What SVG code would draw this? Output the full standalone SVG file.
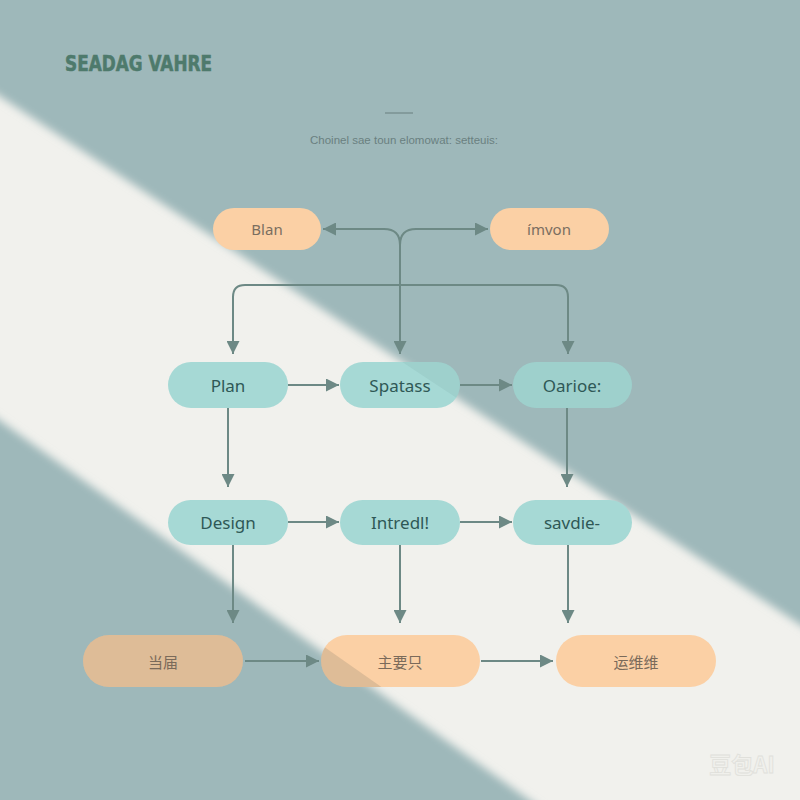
<svg xmlns="http://www.w3.org/2000/svg" width="800" height="800" viewBox="0 0 800 800">
<defs>
<style>
.lbl{font-family:"Noto Sans","DejaVu Sans",sans-serif;text-anchor:middle;dominant-baseline:central}
.t{fill:#a6d9d5}
.o{fill:#fbd0a5}
.tt{fill:#2f5856;font-size:17px}
.ot{fill:#7a6e60;font-size:15px}
.cjk{font-family:"Noto Sans CJK SC",sans-serif;fill:#7a6a5a;font-size:15px;text-anchor:middle;dominant-baseline:central}
.c{fill:none;stroke:#6d8985;stroke-width:2}
</style>
<filter id="soft" x="-10%" y="-10%" width="120%" height="120%"><feGaussianBlur stdDeviation="4"/></filter>
<marker id="ah" viewBox="0 0 10 10" refX="10" refY="5" markerWidth="13" markerHeight="13" markerUnits="userSpaceOnUse" orient="auto-start-reverse">
<path d="M0,0 L10,5 L0,10 z" fill="#6d8985"/>
</marker>
<clipPath id="topShade"><polygon points="-20,-20 820,-20 820,638 -20,83"/></clipPath>
<clipPath id="botShade"><polygon points="-20,406 557,810 -20,810"/></clipPath>
</defs>
<rect width="800" height="800" fill="#f1f1ed"/>
<g filter="url(#soft)">
<polygon points="-40,-40 840,-40 840,651 -40,70" fill="#9eb8ba"/>
<polygon points="-40,392 571,830 -40,830" fill="#9eb8ba"/>
</g>
<text x="65" y="71" font-family="DejaVu Sans,sans-serif" font-weight="bold" font-size="21" fill="#4e7a6c" stroke="#4e7a6c" stroke-width="0.6" textLength="147" lengthAdjust="spacingAndGlyphs">SEADAG VAHRE</text>
<line x1="385" y1="113" x2="413" y2="113" stroke="#7a9292" stroke-width="1.5"/>
<text x="404" y="140" font-family="Liberation Sans,Arial,sans-serif" font-size="11.5" fill="#6a8080" text-anchor="middle" dominant-baseline="central">Choinel sae toun elomowat: setteuis:</text>
<g id="connectors">
<path class="c" d="M400,245 Q400,229 384,229 H323" marker-end="url(#ah)"/>
<path class="c" d="M400,245 Q400,229 416,229 H488" marker-end="url(#ah)"/>
<path class="c" d="M400,240 V354" marker-end="url(#ah)"/>
<path class="c" d="M233,354 V297 Q233,285 245,285 H556 Q568,285 568,297 V354" marker-start="url(#ah)" marker-end="url(#ah)"/>
<path class="c" d="M288,385 H339" marker-end="url(#ah)"/>
<path class="c" d="M460,385 H512" marker-end="url(#ah)"/>
<path class="c" d="M288,522 H339" marker-end="url(#ah)"/>
<path class="c" d="M460,522 H512" marker-end="url(#ah)"/>
<path class="c" d="M228,408 V487" marker-end="url(#ah)"/>
<path class="c" d="M567,408 V487" marker-end="url(#ah)"/>
<path class="c" d="M233,545 V623" marker-end="url(#ah)"/>
<path class="c" d="M400,545 V623" marker-end="url(#ah)"/>
<path class="c" d="M568,545 V623" marker-end="url(#ah)"/>
<path class="c" d="M245,661 H319" marker-end="url(#ah)"/>
<path class="c" d="M481,661 H553" marker-end="url(#ah)"/>
</g>
<g id="n-blan"><rect class="o" x="213" y="208" width="108" height="42" rx="21"/><text class="lbl ot" x="267" y="229">Blan</text></g>
<g id="n-imvon"><rect class="o" x="490" y="208" width="119" height="42" rx="21"/><text class="lbl ot" x="549" y="229">ímvon</text></g>
<g id="n-plan"><rect class="t" x="168" y="362" width="120" height="46" rx="23"/><text class="lbl tt" x="228" y="385">Plan</text></g>
<g id="n-spatass"><rect class="t" x="340" y="362" width="120" height="46" rx="23"/><rect x="340" y="362" width="120" height="46" rx="23" fill="#1d4a4a" opacity="0.06" clip-path="url(#topShade)"/><text class="lbl tt" x="400" y="385">Spatass</text></g>
<g id="n-oarioe"><rect class="t" x="513" y="362" width="119" height="46" rx="23"/><rect x="513" y="362" width="119" height="46" rx="23" fill="#1d4a4a" opacity="0.06" clip-path="url(#topShade)"/><text class="lbl tt" x="572" y="385">Oarioe:</text></g>
<g id="n-design"><rect class="t" x="168" y="500" width="120" height="45" rx="22.5"/><text class="lbl tt" x="228" y="522">Design</text></g>
<g id="n-intredl"><rect class="t" x="340" y="500" width="120" height="45" rx="22.5"/><text class="lbl tt" x="400" y="522">Intredl!</text></g>
<g id="n-savdie"><rect class="t" x="513" y="500" width="119" height="45" rx="22.5"/><text class="lbl tt" x="572" y="522">savdie-</text></g>
<g id="n-dangjie"><rect class="o" x="83" y="635" width="160" height="52" rx="26"/><rect x="83" y="635" width="160" height="52" rx="26" fill="#3a4a48" opacity="0.15" clip-path="url(#botShade)"/><text class="cjk" x="163" y="661">当届</text></g>
<g id="n-zhuyao"><rect class="o" x="321" y="635" width="159" height="52" rx="26"/><rect x="321" y="635" width="159" height="52" rx="26" fill="#3a4a48" opacity="0.15" clip-path="url(#botShade)"/><text class="cjk" x="400" y="661">主要只</text></g>
<g id="n-yunwei"><rect class="o" x="556" y="635" width="160" height="52" rx="26"/><text class="cjk" x="636" y="661">运维维</text></g>
<text x="742" y="763" font-family="Noto Sans CJK SC,sans-serif" font-size="22" font-weight="bold" fill="#f0f0ec" stroke="#e0e0db" stroke-width="0.8" text-anchor="middle" dominant-baseline="central">豆包AI</text>
</svg>
